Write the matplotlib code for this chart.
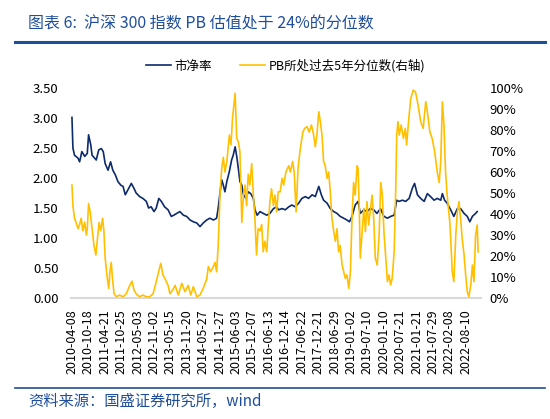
import matplotlib
matplotlib.use('Agg')
import matplotlib.pyplot as plt
from matplotlib.lines import Line2D
from matplotlib.ticker import FuncFormatter
import numpy as np
import pandas as pd

plt.rcParams['font.family'] = ['Noto Sans CJK SC', 'DejaVu Sans']

# tick labels on the category axis (every ~6 months)
date_labels = ['2010-04-08', '2010-10-18', '2011-04-21', '2011-10-25', '2012-05-03',
               '2012-11-02', '2013-05-15', '2013-11-20', '2014-05-27', '2014-11-27',
               '2015-06-03', '2015-12-07', '2016-06-13', '2016-12-14', '2017-06-22',
               '2017-12-21', '2018-06-29', '2019-01-02', '2019-07-10', '2020-01-10',
               '2020-07-21', '2021-01-21', '2021-07-29', '2022-02-08', '2022-08-10']

# 市净率 (time in decimal years)
pb_year = [2010.27, 2010.30, 2010.35, 2010.46, 2010.51, 2010.58, 2010.67, 2010.75, 2010.79, 2010.86, 2010.90, 2010.98,
           2011.03, 2011.11, 2011.19, 2011.25, 2011.31, 2011.40, 2011.48, 2011.55, 2011.63, 2011.71, 2011.80, 2011.87, 2011.94,
           2012.02, 2012.13, 2012.21, 2012.28, 2012.39, 2012.49, 2012.60, 2012.67, 2012.75, 2012.84, 2012.91, 2012.99,
           2013.07, 2013.17, 2013.28, 2013.38, 2013.46, 2013.55, 2013.65, 2013.76, 2013.86, 2013.97,
           2014.07, 2014.18, 2014.28, 2014.38, 2014.49, 2014.59, 2014.70, 2014.80, 2014.85, 2014.91, 2014.96,
           2015.01, 2015.06, 2015.12, 2015.20, 2015.27, 2015.32, 2015.38, 2015.43, 2015.48, 2015.53, 2015.59, 2015.64,
           2015.72, 2015.79, 2015.87, 2015.95,
           2016.00, 2016.07, 2016.16, 2016.26, 2016.37, 2016.47, 2016.58, 2016.68, 2016.74, 2016.85, 2016.95,
           2017.06, 2017.16, 2017.26, 2017.37, 2017.47, 2017.58, 2017.68, 2017.79, 2017.89,
           2018.00, 2018.08, 2018.15, 2018.26, 2018.36, 2018.47, 2018.57, 2018.67, 2018.78, 2018.88, 2018.96,
           2019.04, 2019.14, 2019.23, 2019.30, 2019.41, 2019.51, 2019.61, 2019.72, 2019.82, 2019.93,
           2020.04, 2020.15, 2020.25, 2020.36, 2020.44, 2020.51, 2020.62, 2020.72, 2020.83, 2020.93,
           2021.00, 2021.09, 2021.19, 2021.30, 2021.40, 2021.50, 2021.61, 2021.71, 2021.82, 2021.87, 2021.94,
           2022.02, 2022.13, 2022.23, 2022.34, 2022.44, 2022.55, 2022.65, 2022.73, 2022.81, 2022.91, 2022.96]
pb_value = [3.01, 2.50, 2.38, 2.33, 2.27, 2.44, 2.36, 2.41, 2.72, 2.55, 2.38, 2.33,
            2.30, 2.47, 2.49, 2.44, 2.24, 2.13, 2.27, 2.13, 2.05, 1.94, 1.88, 1.86, 1.72,
            1.80, 1.91, 1.83, 1.75, 1.69, 1.66, 1.61, 1.50, 1.52, 1.44, 1.50, 1.66,
            1.61, 1.52, 1.47, 1.36, 1.38, 1.41, 1.44, 1.38, 1.36, 1.30,
            1.27, 1.25, 1.19, 1.25, 1.30, 1.33, 1.30, 1.33, 1.50, 1.77, 1.97,
            1.88, 1.77, 1.94, 2.11, 2.30, 2.38, 2.52, 2.36, 2.16, 1.94, 1.88, 1.72,
            1.66, 1.77, 1.74, 1.66,
            1.47, 1.38, 1.44, 1.41, 1.38, 1.41, 1.49, 1.52, 1.47, 1.49, 1.47,
            1.52, 1.55, 1.52, 1.58, 1.66, 1.69, 1.66, 1.72, 1.69,
            1.86, 1.72, 1.63, 1.58, 1.49, 1.44, 1.41, 1.36, 1.33, 1.30, 1.27,
            1.36, 1.55, 1.61, 1.41, 1.47, 1.44, 1.49, 1.47, 1.41, 1.49,
            1.36, 1.33, 1.36, 1.38, 1.63, 1.61, 1.63, 1.61, 1.66, 1.83,
            1.91, 1.72, 1.66, 1.61, 1.74, 1.69, 1.63, 1.66, 1.63, 1.74, 1.63,
            1.58, 1.47, 1.36, 1.49, 1.49, 1.41, 1.36, 1.27, 1.36, 1.41, 1.44]

# PB所处过去5年分位数 (%)
pct_year = [2010.27, 2010.30, 2010.35, 2010.40, 2010.46, 2010.51, 2010.56, 2010.61, 2010.67, 2010.72, 2010.75,
            2010.79, 2010.84, 2010.90, 2010.96,
            2011.02, 2011.06, 2011.12, 2011.17, 2011.23, 2011.27, 2011.31, 2011.38, 2011.42, 2011.46, 2011.50,
            2011.54, 2011.59, 2011.66, 2011.76, 2011.87, 2011.97,
            2012.08, 2012.15, 2012.21, 2012.28, 2012.39, 2012.49, 2012.60, 2012.70, 2012.81, 2012.88, 2012.96,
            2013.05, 2013.12, 2013.19, 2013.28, 2013.34, 2013.43, 2013.50, 2013.60, 2013.71, 2013.81, 2013.91, 2013.99,
            2014.07, 2014.18, 2014.28, 2014.38, 2014.49, 2014.54, 2014.61, 2014.70, 2014.75, 2014.80, 2014.85,
            2014.91, 2014.96,
            2015.01, 2015.06, 2015.12, 2015.20, 2015.25, 2015.30, 2015.38, 2015.43, 2015.48, 2015.53, 2015.59,
            2015.64, 2015.69, 2015.74, 2015.79, 2015.84, 2015.90, 2015.95,
            2016.00, 2016.05, 2016.10, 2016.16, 2016.21, 2016.26, 2016.31, 2016.37, 2016.42, 2016.47, 2016.52,
            2016.58, 2016.63, 2016.68, 2016.73, 2016.79, 2016.85, 2016.90, 2016.97,
            2017.06, 2017.11, 2017.18, 2017.23, 2017.29, 2017.35, 2017.42, 2017.50, 2017.56, 2017.63, 2017.70,
            2017.77, 2017.84, 2017.89, 2017.94,
            2018.00, 2018.05, 2018.10, 2018.15, 2018.20, 2018.26, 2018.31, 2018.36, 2018.41, 2018.47, 2018.52,
            2018.57, 2018.62, 2018.67, 2018.73, 2018.78, 2018.83, 2018.88, 2018.94, 2018.99,
            2019.04, 2019.09, 2019.14, 2019.20, 2019.23, 2019.27, 2019.30, 2019.35, 2019.41, 2019.46, 2019.51,
            2019.56, 2019.61, 2019.67, 2019.72, 2019.77, 2019.83, 2019.89, 2019.94, 2019.99,
            2020.04, 2020.10, 2020.15, 2020.20, 2020.25, 2020.30, 2020.36, 2020.41, 2020.44, 2020.48, 2020.52,
            2020.58, 2020.65, 2020.71, 2020.75, 2020.82, 2020.88, 2020.96,
            2021.03, 2021.11, 2021.19, 2021.27, 2021.35, 2021.40, 2021.48, 2021.55, 2021.63, 2021.71, 2021.77,
            2021.82, 2021.87, 2021.92, 2021.97,
            2022.02, 2022.11, 2022.18, 2022.23, 2022.29, 2022.34, 2022.39, 2022.44, 2022.49, 2022.55, 2022.60,
            2022.65, 2022.70, 2022.76, 2022.81, 2022.86, 2022.91, 2022.96, 2022.99]
pct_value = [53.8, 44, 38, 36, 33, 35, 38, 32, 36, 30, 33,
             45, 41, 33, 25,
             20.5, 27, 36, 32, 38, 32, 19, 9, 4.6, 12.5, 17,
             9, 2, 0.6, 1.4, 0.6, 2,
             6, 8, 4, 2, 0.6, 1.4, 0.6, 0.6, 2, 6, 11,
             16.5, 11, 9, 6, 2, 4, 6, 1.4, 7, 3, 6, 1.4,
             5.4, 0.6, 1.4, 4.6, 9, 15, 12.5, 15, 17, 12.5, 25,
             50.6, 61.7,
             67, 60, 65, 77.6, 73, 86, 97.5, 76, 74.4, 69.7, 36,
             49, 53.8, 44, 59, 53.8, 64, 49,
             38, 20.5, 33, 32, 35, 22, 27, 22, 35, 46, 52,
             44, 49, 41, 50.6, 50.6, 57, 53.8, 60,
             63, 60, 65, 60, 41, 61.7, 71, 79, 80.8, 81.6, 79,
             82.4, 77.6, 72, 77.6,
             88.7, 84, 77.6, 65, 63, 57, 60, 50.6, 38, 31.6, 27,
             33, 22, 25, 15.7, 12.5, 9.4, 11, 4.6, 12.5,
             38, 55, 49, 63, 61.7, 41, 19, 30, 42.7, 31.6, 45.9,
             34.8, 41, 49, 38, 19, 15.7, 30, 55, 49,
             31.6, 19, 7.8, 11, 6.2, 9.4, 22, 52, 77.6, 84, 77.6,
             82.4, 76, 80.8, 72.9, 85.6, 95, 99,
             98, 91.9, 84, 80.8, 93.5, 88.7, 79, 76, 69.7, 60, 55,
             65, 93.5, 82.4, 60,
             49, 34.8, 12.5, 7.8, 30, 41, 45.9, 38, 28.4, 20.5, 11,
             3, 0.6, 6.2, 15.7, 7.8, 30, 34.8, 22]

NAVY = '#0d2a6b'
GOLD = '#ffc000'
TITLE_BLUE = '#1f4e9c'


def decimal_year(s):
    ts = pd.Timestamp(s)
    return ts.year + (ts.dayofyear - 1) / 365.25


fig = plt.figure(figsize=(5.5, 4.19), dpi=100)
ax = fig.add_axes([71 / 550, 121 / 419, 410 / 550, 210 / 419])

l1, = ax.plot(pb_year, pb_value, color=NAVY, lw=1.2, label='市净率')
ax.set_ylim(0, 3.5)
ax.set_yticks(np.arange(0, 3.51, 0.5))
ax.yaxis.set_major_formatter(FuncFormatter(lambda v, p: '%.2f' % v))

ax2 = ax.twinx()
l2, = ax2.plot(pct_year, pct_value, color=GOLD, lw=1.2, label='PB所处过去5年分位数(右轴)')
ax2.set_ylim(0, 100)
ax2.set_yticks(np.arange(0, 101, 10))
ax2.yaxis.set_major_formatter(FuncFormatter(lambda v, p: '%d%%' % v))

# evenly spaced category labels, like the Excel axis
ticks = np.linspace(decimal_year(date_labels[0]), decimal_year(date_labels[-1]), len(date_labels))
ax.set_xticks(ticks)
ax.set_xticklabels(date_labels, rotation=90)
ax.set_xlim(2010.24, 2023.08)

for a in (ax, ax2):
    for s in ('top', 'left', 'right'):
        a.spines[s].set_visible(False)
    a.spines['bottom'].set_visible(False)
ax.spines['bottom'].set_visible(True)
ax.spines['bottom'].set_color('#d9d9d9')
ax.spines['bottom'].set_linewidth(1.5)

ax.tick_params(axis='y', length=0, pad=9, labelsize=9.5)
ax.tick_params(axis='x', length=0, pad=8, labelsize=9)
ax2.tick_params(axis='y', length=0, pad=6, labelsize=9.5)

fig.legend(handles=[l1, l2], loc='center', bbox_to_anchor=(0.519, 1 - 66 / 419), ncol=2,
           frameon=False, fontsize=9, handlelength=2.0, handletextpad=0.3, columnspacing=2.2)

# title and source
fig.text(28 / 550, 1 - 24 / 419, '图表 6:  沪深 300 指数 PB 估值处于 24%的分位数',
         fontsize=11.5, color=TITLE_BLUE, va='center', ha='left')
fig.add_artist(Line2D([15 / 550, 545 / 550], [1 - 42 / 419] * 2, color=TITLE_BLUE, lw=2.2))
fig.add_artist(Line2D([15 / 550, 545 / 550], [1 - 388 / 419] * 2, color=TITLE_BLUE, lw=1.2))
fig.text(28 / 550, 1 - 401 / 419, '资料来源：国盛证券研究所，wind',
         fontsize=11, color=TITLE_BLUE, va='center', ha='left')

fig.savefig('out.png', dpi=100)
